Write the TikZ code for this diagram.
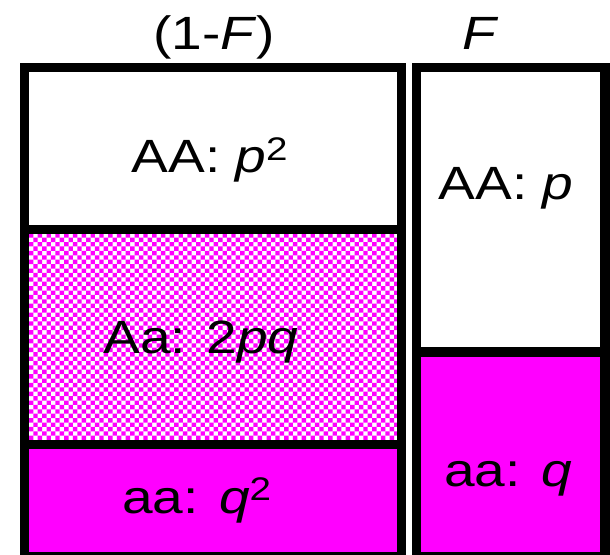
\documentclass[tikz,border=0pt]{standalone}
\usepackage{fontspec}
\setmainfont{Liberation Sans}
\definecolor{mag}{HTML}{FF00FF}
\tikzset{
  frame/.style={line width=6.8pt, draw=black},
  lbl/.style={font=\fontsize{35}{40}\selectfont, inner sep=0pt, anchor=base, xscale=1.18, transform shape}
}

\begin{document}
\begin{tikzpicture}[x=0.75pt, y=0.75pt]
	\useasboundingbox (0,0) rectangle (610,554);
	\clip (0,0) rectangle (610,554);
	\fill[white] (0,0) rectangle (610,554);
	% left block, checkered middle band
	\begin{scope}
		\clip (24.5,109.5) rectangle (401.5,324.5);
		\foreach \j in {0,...,49} {
			\pgfmathsetmacro\off{mod(\j,2)*4.4}
			\fill[mag] \foreach \i in {0,...,43} { ({24.5+\off+8.8*\i},{109.5+4.4*\j}) rectangle ++(4.4,4.4) };
		}
	\end{scope}
	\fill[mag] (24.5,-2.5) rectangle (401.5,109.5);
	\draw[frame] (24.5,-2.5) rectangle (401.5,486.5);
	\draw[frame] (24.5,324.5) -- (401.5,324.5);
	\draw[frame] (24.5,109.5) -- (401.5,109.5);
	% right block
	\fill[mag] (416.5,-2.5) rectangle (605,202);
	\draw[frame] (416.5,-2.5) rectangle (605,486.5);
	\draw[frame] (416.5,202) -- (605,202);
	% labels
	\node[lbl] (notf) at (214,504) {(1-\textit{F})};
	\node[lbl] (f) at (481,504) {\textit{F}};
	\node[lbl] (hom1) at (210,381) {AA: \textit{p}\textsuperscript{2}};
	\node[lbl] (het) at (201,201) {Aa: 2\textit{pq}};
	\node[lbl] (rec1) at (197,41) {aa: \textit{q}\textsuperscript{2}};
	\node[lbl] (hom2) at (506,354) {AA: \textit{p}};
	\node[lbl] (rec2) at (508,68) {aa: \textit{q}};
\end{tikzpicture}
\end{document}
